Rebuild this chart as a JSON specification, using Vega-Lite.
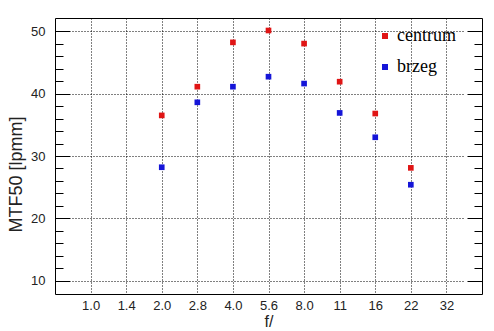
{
  "$schema": "https://vega.github.io/schema/vega-lite/v6.json",
  "autosize": "none",
  "width": 427,
  "height": 276,
  "padding": {"left": 55, "top": 18, "right": 12, "bottom": 37},
  "background": "white",
  "data": {"values": [
    {"f": "2.0", "s": "centrum", "v": 36.5},
    {"f": "2.8", "s": "centrum", "v": 41.1},
    {"f": "4.0", "s": "centrum", "v": 48.2},
    {"f": "5.6", "s": "centrum", "v": 50.1},
    {"f": "8.0", "s": "centrum", "v": 48.0},
    {"f": "11", "s": "centrum", "v": 41.9},
    {"f": "16", "s": "centrum", "v": 36.8},
    {"f": "22", "s": "centrum", "v": 28.1},
    {"f": "2.0", "s": "brzeg", "v": 28.2},
    {"f": "2.8", "s": "brzeg", "v": 38.6},
    {"f": "4.0", "s": "brzeg", "v": 41.1},
    {"f": "5.6", "s": "brzeg", "v": 42.7},
    {"f": "8.0", "s": "brzeg", "v": 41.6},
    {"f": "11", "s": "brzeg", "v": 36.9},
    {"f": "16", "s": "brzeg", "v": 33.0},
    {"f": "22", "s": "brzeg", "v": 25.4}
  ]},
  "mark": {"type": "square", "size": 32, "opacity": 1},
  "encoding": {
    "x": {
      "field": "f", "type": "nominal",
      "scale": {"type": "point", "padding": 1, "domain": ["1.0","1.4","2.0","2.8","4.0","5.6","8.0","11","16","22","32"]},
      "sort": null,
      "axis": {
        "title": "f/", "labelAngle": 0, "ticks": false, "domain": false,
        "grid": true, "gridDash": [1, 2], "labelPadding": 5, "titlePadding": 1,
        "labelFontSize": 13, "titleFontSize": 16, "titleFontWeight": "normal"
      }
    },
    "y": {
      "field": "v", "type": "quantitative",
      "scale": {"domain": [7.9, 52.1], "nice": false, "zero": false},
      "axis": {
        "title": "MTF50 [lpmm]",
        "values": [10, 12, 14, 16, 18, 20, 22, 24, 26, 28, 30, 32, 34, 36, 38, 40, 42, 44, 46, 48, 50],
        "labelExpr": "datum.value % 10 === 0 ? datum.label : ''",
        "ticks": false, "domain": false, "grid": true,
        "gridColor": "black",
        "gridWidth": 1,
        "gridDash": {
          "condition": {"test": "datum.value % 10 !== 0", "value": [8, 411]},
          "value": [15, 2,
            1,2,1,2,1,2,1,2,1,2,1,2,1,2,1,2,1,2,1,2,
            1,2,1,2,1,2,1,2,1,2,1,2,1,2,1,2,1,2,1,2,
            1,2,1,2,1,2,1,2,1,2,1,2,1,2,1,2,1,2,1,2,
            1,2,1,2,1,2,1,2,1,2,1,2,1,2,1,2,1,2,1,2,
            1,2,1,2,1,2,1,2,1,2,1,2,1,2,1,2,1,2,1,2,
            1,2,1,2,1,2,1,2,1,2,1,2,1,2,1,2,1,2,1,2,
            1,2,1,2,1,2,1,2,1,2,1,2,1,2,1,2,1,2,1,2,
            1,2,1,2,1,2,1,2,1,2,1,2,1,2,1,2,1,2,1,2,
            1,2,1,2,1,2,1,2,1,2,1,2,1,2,1,2,1,2,1,2,
            1,2,1,2,1,2,1,2,1,2,1,2,1,2,1,2,1,2,1,2,
            1,2,1,2,1,2,1,2,1,2,1,2,1,2,1,2,1,2,1,2,
            1,2,1,2,1,2,1,2,1,2,1,2,1,2,1,2,1,2,1,2,
            1,2,1,2,1,2,1,2,1,2,1,2,1,2,1,2,1,2,1,2,
            1, 4, 15, 100]
        },
        "labelPadding": 10, "titlePadding": 6,
        "titleX": -30, "titleY": 156,
        "labelFontSize": 13, "titleFontSize": 18, "titleFontWeight": "normal",
        "titleFont": "Liberation Sans"
      }
    },
    "color": {
      "field": "s", "type": "nominal",
      "scale": {"domain": ["centrum", "brzeg"], "range": ["#e01515", "#1515d8"]},
      "legend": {
        "title": null, "orient": "none", "legendX": 321, "legendY": 9,
        "symbolType": "square", "symbolSize": 36, "labelFont": "Liberation Serif",
        "labelFontSize": 18, "labelColor": "black", "labelOffset": 3,
        "rowPadding": 13, "symbolStrokeWidth": 0, "padding": 0
      }
    }
  },
  "config": {
    "view": {"stroke": "black", "strokeWidth": 1},
    "font": "Liberation Sans Narrow, Liberation Sans",
    "axis": {
      "gridOpacity": 1,
      "labelColor": "#222222", "titleColor": "#222222",
      "labelFont": "Liberation Sans Narrow, Liberation Sans", "titleFont": "Liberation Sans"
    },
    "axisX": {"gridColor": "black", "gridWidth": 1}
  }
}
